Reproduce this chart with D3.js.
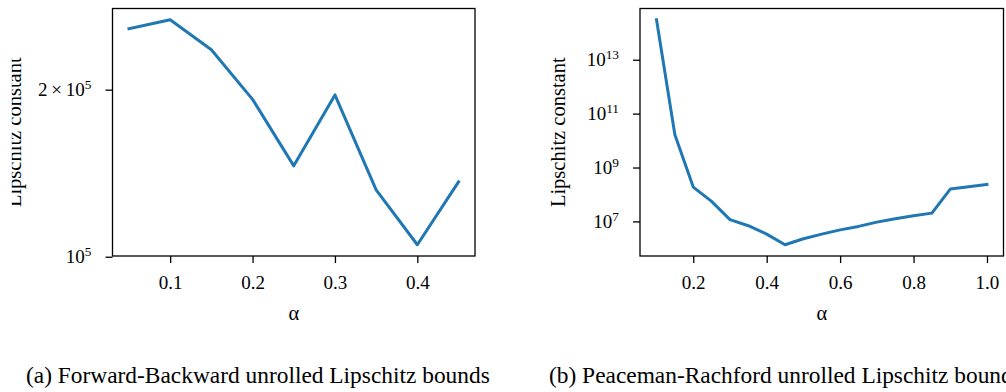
<!DOCTYPE html>
<html>
<head>
<meta charset="utf-8">
<script src="https://cdn.jsdelivr.net/npm/d3@7"></script>
<style>
  html, body { margin: 0; padding: 0; background: #fff; }
  svg { display: block; }
  text { font-family: "Liberation Serif", "DejaVu Serif", serif; fill: #000; }
</style>
</head>
<body>
<svg id="chart" width="1006" height="392"></svg>
<script>
// ---- data ----
const fbAlpha = [0.05, 0.10, 0.15, 0.20, 0.25, 0.30, 0.35, 0.40, 0.45];
const fbLipschitz = [2.575e5, 2.673e5, 2.36e5, 1.921e5, 1.458e5, 1.957e5, 1.32e5, 1.051e5, 1.364e5];

const prAlpha = [0.10, 0.15, 0.20, 0.25, 0.30, 0.35, 0.40, 0.45, 0.50, 0.55,
                 0.60, 0.65, 0.70, 0.75, 0.80, 0.85, 0.90, 0.95, 1.00];
const prLipschitz = [3.05e14, 1.65e10, 1.88e8, 5.52e7, 1.16e7, 6.92e6, 3.38e6, 1.36e6, 2.28e6, 3.38e6,
                     4.84e6, 6.52e6, 9.42e6, 1.26e7, 1.63e7, 2.03e7, 1.58e8, 1.94e8, 2.36e8];

const fbXTicks = [0.1, 0.2, 0.3, 0.4];
const fbXTickLabels = ["0.1", "0.2", "0.3", "0.4"];
const fbYTicks = [1e5, 2e5];
const fbYTickLabels = [["", "10", "5"], ["2×", "10", "5"]];

const prXTicks = [0.2, 0.4, 0.6, 0.8, 1.0];
const prXTickLabels = ["0.2", "0.4", "0.6", "0.8", "1.0"];
const prYTicks = [1e7, 1e9, 1e11, 1e13];
const prYTickLabels = [["", "10", "7"], ["", "10", "9"], ["", "10", "11"], ["", "10", "13"]];

const xTitle = "α";
const yTitle = "Lipschitz constant";
const captions = ["(a) Forward-Backward unrolled Lipschitz bounds", "(b) Peaceman-Rachford unrolled Lipschitz bounds"];

// ---- layout ----
const svg = d3.select("#chart");
const TICK_FONT = 19, LABEL_FONT = 20.5, CAPTION_FONT = 23.4;
const plotTop = 8.5, plotBottom = 256;

function padLinear(ext, f) { const d = ext[1] - ext[0]; return [ext[0] - f * d, ext[1] + f * d]; }
function padLog(ext, f) {
  const l0 = Math.log10(ext[0]), l1 = Math.log10(ext[1]), d = l1 - l0;
  return [Math.pow(10, l0 - f * d), Math.pow(10, l1 + f * d)];
}

function panel(opts) {
  const {xs, ys, left, right, xTicks, xTickLabels, yTicks, yTickLabels, labelX, captionX, clipLeft} = opts;
  const x = d3.scaleLinear().domain(padLinear(d3.extent(xs), 0.05)).range([left, right]);
  const y = d3.scaleLog().domain(padLog(d3.extent(ys), 0.05)).range([plotBottom, plotTop]);
  const g = svg.append("g");

  // line
  g.append("path")
    .datum(xs.map((v, i) => [v, ys[i]]))
    .attr("fill", "none")
    .attr("stroke", "#1f77b4")
    .attr("stroke-width", 3)
    .attr("stroke-linejoin", "round")
    .attr("stroke-linecap", "square")
    .attr("d", d3.line().x(d => x(d[0])).y(d => y(d[1])));

  // x axis
  const xa = g.append("g").attr("transform", `translate(0,${plotBottom})`)
    .call(d3.axisBottom(x).tickValues(xTicks).tickSize(7).tickSizeOuter(0)
      .tickFormat((d, i) => xTickLabels[i]));
  xa.select(".domain").remove();
  xa.selectAll(".tick line").attr("stroke", "#000").attr("stroke-width", 1.3);
  xa.selectAll(".tick text").attr("font-size", TICK_FONT).attr("font-family", null)
    .attr("y", 0).attr("dy", null).attr("transform", "translate(0,33)");

  // y axis
  const ya = g.append("g").attr("transform", `translate(${left},0)`)
    .call(d3.axisLeft(y).tickValues(yTicks).tickSize(7).tickSizeOuter(0).tickFormat(() => ""));
  ya.select(".domain").remove();
  ya.selectAll(".tick line").attr("stroke", "#000").attr("stroke-width", 1.3);
  ya.selectAll(".tick text").each(function(d, i) {
    const t = d3.select(this);
    const parts = yTickLabels[i];
    t.attr("font-size", TICK_FONT).attr("font-family", null)
      .attr("x", -21).attr("dy", "0.32em").attr("text-anchor", "end");
    if (parts[0]) t.append("tspan").text(parts[0].replace("×", "\u2009×\u2009"));
    t.append("tspan").text(parts[1]);
    t.append("tspan").attr("font-size", TICK_FONT * 0.7).attr("dy", "-0.55em").text(parts[2]);
  });

  // frame
  g.append("rect").attr("x", left).attr("y", plotTop).attr("width", right - left).attr("height", plotBottom - plotTop)
    .attr("fill", "none").attr("stroke", "#000").attr("stroke-width", 1.3);

  // axis titles
  g.append("text").attr("x", (left + right) / 2).attr("y", 320)
    .attr("text-anchor", "middle").attr("font-size", LABEL_FONT).text(xTitle);

  const lg = g.append("g");
  if (clipLeft != null) {
    const id = "clip" + Math.round(left);
    svg.append("clipPath").attr("id", id).attr("clipPathUnits", "userSpaceOnUse")
      .append("rect").attr("x", clipLeft).attr("y", 0).attr("width", 1006).attr("height", 392);
    lg.attr("clip-path", `url(#${id})`);
  }
  lg.append("text")
    .attr("transform", `translate(${labelX},${(plotTop + plotBottom) / 2}) rotate(-90)`)
    .attr("text-anchor", "middle").attr("font-size", LABEL_FONT).text(yTitle);

  // caption
  svg.append("text").attr("x", captionX).attr("y", 383)
    .attr("font-size", CAPTION_FONT).text(opts.caption);
}

panel({xs: fbAlpha, ys: fbLipschitz, left: 112.5, right: 475,
  xTicks: fbXTicks, xTickLabels: fbXTickLabels, yTicks: fbYTicks, yTickLabels: fbYTickLabels,
  labelX: 21, captionX: 26, caption: captions[0], clipLeft: 11.8});
panel({xs: prAlpha, ys: prLipschitz, left: 640, right: 1003.5,
  xTicks: prXTicks, xTickLabels: prXTickLabels, yTicks: prYTicks, yTickLabels: prYTickLabels,
  labelX: 565, captionX: 549, caption: captions[1], clipLeft: null});
</script>
</body>
</html>
